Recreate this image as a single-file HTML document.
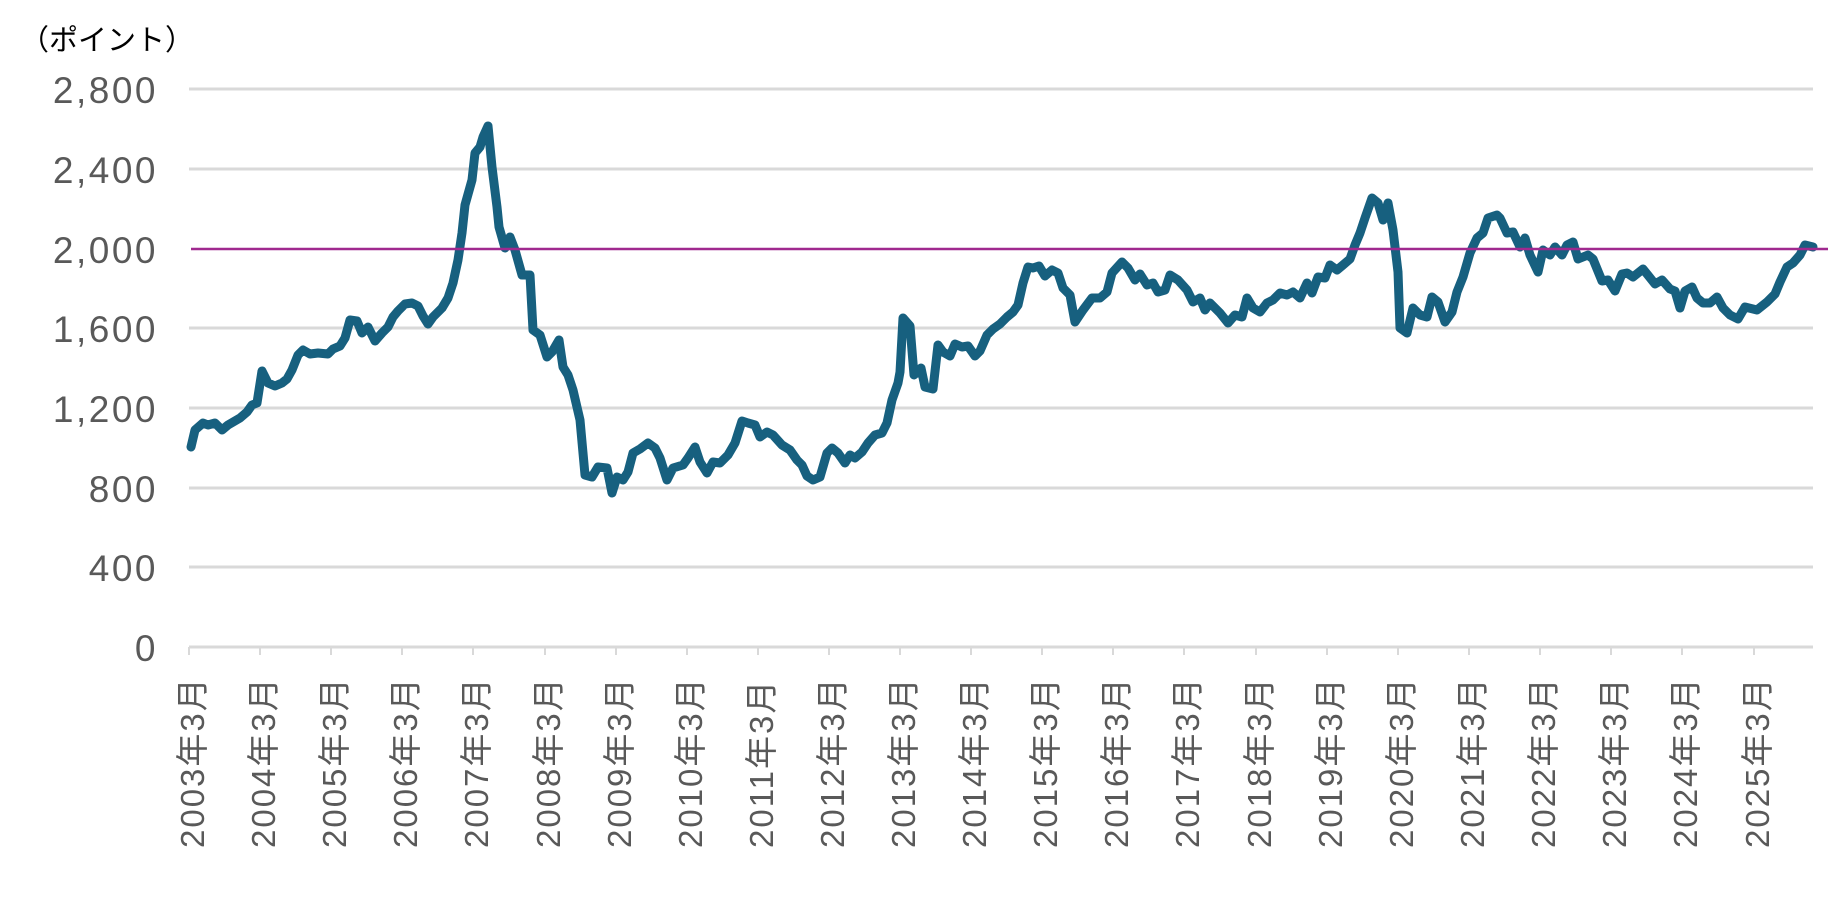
<!DOCTYPE html>
<html><head><meta charset="utf-8"><style>
html,body{margin:0;padding:0;background:#fff;}
svg{display:block;}
</style></head><body>
<svg width="1848" height="909" viewBox="0 0 1848 909" xmlns="http://www.w3.org/2000/svg">
<rect width="1848" height="909" fill="#fff"/>
<text x="20" y="50" font-family="'Liberation Sans','Noto Sans CJK JP',sans-serif" font-size="29" fill="#000">（ポイント）</text>
<g stroke="#d9d9d9" stroke-width="3">
<line x1="189" y1="89" x2="1813" y2="89"/>
<line x1="189" y1="169" x2="1813" y2="169"/>
<line x1="189" y1="328" x2="1813" y2="328"/>
<line x1="189" y1="408" x2="1813" y2="408"/>
<line x1="189" y1="488" x2="1813" y2="488"/>
<line x1="189" y1="567" x2="1813" y2="567"/>
<line x1="189" y1="647" x2="1813" y2="647"/>
</g>
<g stroke="#d9d9d9" stroke-width="2">
<line x1="189" y1="647" x2="189" y2="655"/><line x1="260" y1="647" x2="260" y2="655"/><line x1="331" y1="647" x2="331" y2="655"/><line x1="402" y1="647" x2="402" y2="655"/><line x1="473" y1="647" x2="473" y2="655"/><line x1="545" y1="647" x2="545" y2="655"/><line x1="616" y1="647" x2="616" y2="655"/><line x1="687" y1="647" x2="687" y2="655"/><line x1="758" y1="647" x2="758" y2="655"/><line x1="829" y1="647" x2="829" y2="655"/><line x1="900" y1="647" x2="900" y2="655"/><line x1="971" y1="647" x2="971" y2="655"/><line x1="1042" y1="647" x2="1042" y2="655"/><line x1="1113" y1="647" x2="1113" y2="655"/><line x1="1184" y1="647" x2="1184" y2="655"/><line x1="1256" y1="647" x2="1256" y2="655"/><line x1="1327" y1="647" x2="1327" y2="655"/><line x1="1398" y1="647" x2="1398" y2="655"/><line x1="1469" y1="647" x2="1469" y2="655"/><line x1="1540" y1="647" x2="1540" y2="655"/><line x1="1611" y1="647" x2="1611" y2="655"/><line x1="1682" y1="647" x2="1682" y2="655"/><line x1="1754" y1="647" x2="1754" y2="655"/>
</g>
<g font-family="'Liberation Sans',sans-serif" font-size="37" fill="#595959" text-anchor="end" letter-spacing="2.5">
<text x="158" y="103">2,800</text>
<text x="158" y="183">2,400</text>
<text x="158" y="263">2,000</text>
<text x="158" y="342">1,600</text>
<text x="158" y="422">1,200</text>
<text x="158" y="502">800</text>
<text x="158" y="581">400</text>
<text x="158" y="661">0</text>
</g>
<g font-family="'Liberation Sans','Noto Sans CJK JP',sans-serif" font-size="33" fill="#595959" letter-spacing="2">
<text transform="translate(204,848) rotate(-90)">2003年3月</text>
<text transform="translate(275,848) rotate(-90)">2004年3月</text>
<text transform="translate(346,848) rotate(-90)">2005年3月</text>
<text transform="translate(417,848) rotate(-90)">2006年3月</text>
<text transform="translate(488,848) rotate(-90)">2007年3月</text>
<text transform="translate(560,848) rotate(-90)">2008年3月</text>
<text transform="translate(631,848) rotate(-90)">2009年3月</text>
<text transform="translate(702,848) rotate(-90)">2010年3月</text>
<text transform="translate(773,848) rotate(-90)">2011年3月</text>
<text transform="translate(844,848) rotate(-90)">2012年3月</text>
<text transform="translate(915,848) rotate(-90)">2013年3月</text>
<text transform="translate(986,848) rotate(-90)">2014年3月</text>
<text transform="translate(1057,848) rotate(-90)">2015年3月</text>
<text transform="translate(1128,848) rotate(-90)">2016年3月</text>
<text transform="translate(1199,848) rotate(-90)">2017年3月</text>
<text transform="translate(1271,848) rotate(-90)">2018年3月</text>
<text transform="translate(1342,848) rotate(-90)">2019年3月</text>
<text transform="translate(1413,848) rotate(-90)">2020年3月</text>
<text transform="translate(1484,848) rotate(-90)">2021年3月</text>
<text transform="translate(1555,848) rotate(-90)">2022年3月</text>
<text transform="translate(1626,848) rotate(-90)">2023年3月</text>
<text transform="translate(1697,848) rotate(-90)">2024年3月</text>
<text transform="translate(1769,848) rotate(-90)">2025年3月</text>
</g>
<polyline fill="none" stroke="#17607f" stroke-width="9" stroke-linejoin="round" stroke-linecap="round" points="191,447 195,430 203,423 208,425 215,423 222,430 228,425 240,418 247,412 252,405 257,403 262,371 268,383 275,386 282,383 287,379 292,370 298,355 303,350 310,354 318,353 328,354 333,349 340,346 345,338 350,320 357,321 362,333 368,327 375,341 382,333 388,327 393,317 398,311 405,304 412,303 418,306 423,316 428,324 433,317 442,308 448,298 453,283 458,260 462,233 465,205 472,180 475,153 480,147 483,137 488,126 492,167 497,207 499,227 505,248 510,237 515,250 522,275 530,275 533,330 540,335 547,357 552,352 559,340 563,367 568,375 573,390 580,420 585,475 592,477 598,467 607,468 612,493 617,477 623,480 628,472 633,453 640,449 648,443 655,448 660,458 667,480 673,468 683,465 688,458 695,447 700,462 707,473 713,462 720,463 728,455 735,443 742,421 748,423 755,425 760,437 767,432 773,435 782,445 790,450 797,460 802,465 807,476 813,480 820,477 827,453 832,448 838,453 845,463 850,455 855,458 862,452 868,443 875,435 882,433 887,423 892,400 898,383 900,372 903,318 910,326 914,375 921,368 925,387 933,389 938,345 943,352 950,356 955,344 962,347 968,346 975,356 980,351 987,335 993,329 1000,324 1007,317 1013,312 1018,305 1023,283 1028,267 1033,268 1039,266 1045,276 1052,270 1058,273 1063,288 1070,295 1075,322 1083,310 1092,298 1100,298 1107,292 1112,273 1122,262 1128,268 1135,280 1140,274 1147,285 1153,283 1158,292 1165,290 1170,275 1178,280 1187,290 1193,302 1200,298 1205,310 1210,303 1220,313 1228,323 1235,315 1242,317 1247,298 1253,308 1260,312 1267,303 1273,300 1280,293 1287,295 1293,292 1300,298 1307,283 1312,293 1318,277 1325,278 1330,265 1337,270 1343,265 1350,259 1355,245 1360,233 1365,218 1372,198 1378,203 1383,220 1388,203 1393,230 1398,272 1400,328 1407,333 1413,308 1420,315 1427,317 1432,297 1438,302 1445,322 1452,312 1457,292 1463,277 1470,253 1477,238 1483,233 1488,218 1497,215 1500,218 1507,233 1513,232 1520,247 1525,238 1530,255 1538,272 1543,250 1550,255 1555,247 1562,255 1567,245 1573,242 1578,259 1588,255 1593,259 1602,281 1608,280 1615,291 1622,274 1627,273 1633,277 1643,269 1655,284 1662,280 1670,289 1675,291 1680,308 1685,291 1692,287 1697,298 1703,303 1710,303 1717,297 1723,308 1730,315 1738,319 1745,307 1757,310 1767,302 1775,294 1780,282 1787,267 1793,263 1800,255 1805,245 1813,247"/>
<line x1="191" y1="249" x2="1828" y2="249" stroke="#a0298f" stroke-width="2.5"/>
</svg>
</body></html>
